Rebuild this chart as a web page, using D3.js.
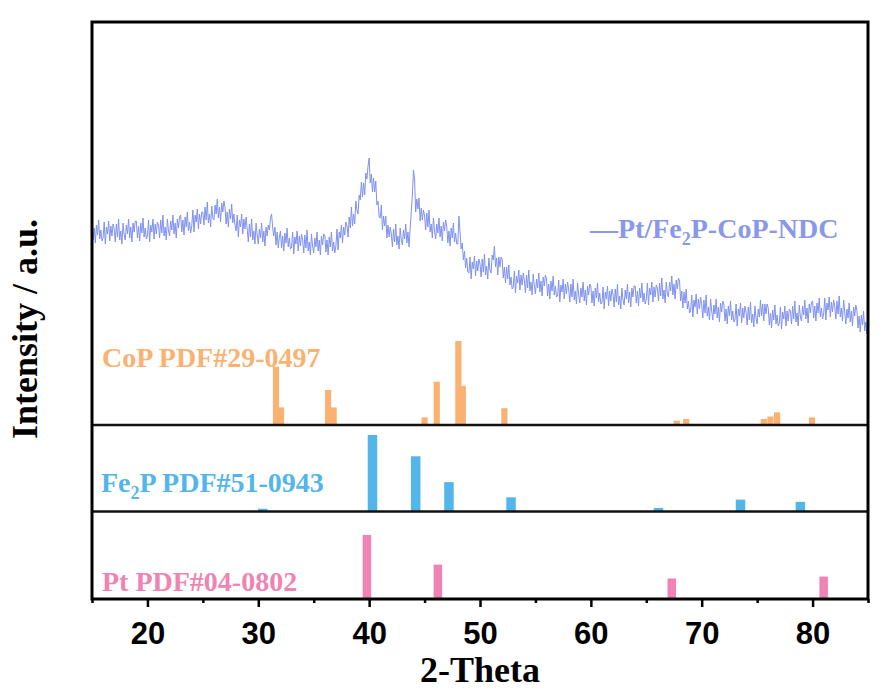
<!DOCTYPE html>
<html>
<head>
<meta charset="utf-8">
<script src="https://cdn.jsdelivr.net/npm/d3@7"></script>
<style>
  html, body { margin: 0; padding: 0; background: #ffffff; }
  svg { display: block; }
</style>
</head>
<body>
<svg id="chart" width="881" height="691"></svg>
<script>
// ---------------- DATA ----------------
const thetaStart = 15;
const thetaStep = 0.1;
// Pt/Fe2P-CoP-NDC measured pattern, 15.0° .. 85.0° in 0.1° steps (a.u.)
const curveCounts = [
117,100,112,97,115,105,120,101,110,99,
102,118,96,113,106,119,99,114,104,116,
111,98,116,103,121,100,109,96,117,105,
100,115,106,121,102,113,98,117,108,119,
119,102,114,99,117,107,122,103,112,101,
104,120,98,115,108,121,101,116,106,118,
115,102,120,107,125,104,113,100,121,109,
104,119,110,125,106,117,102,121,112,123,
125,108,120,105,123,113,128,109,118,107,
114,130,108,125,118,131,111,126,116,128,
128,115,133,120,138,117,126,113,134,122,
120,135,126,141,122,133,118,137,128,139,
133,116,128,113,131,121,136,117,126,115,
109,125,103,120,113,126,106,121,111,123,
111,98,116,103,121,100,109,96,117,105,
96,111,102,117,98,109,94,113,104,115,
110,122,126,112,104,113,95,108,92,103,
109,92,104,89,107,97,112,93,102,91,
92,108,86,103,96,109,89,104,94,106,
100,87,105,92,110,89,98,85,106,94,
87,102,93,108,89,100,85,104,95,106,
105,88,100,85,103,93,108,89,98,87,
94,111,90,108,102,115,97,113,105,118,
114,103,123,112,133,114,126,116,139,130,
126,145,140,158,143,157,145,167,161,174,
182,157,166,148,162,148,159,135,139,123,
122,135,110,124,114,124,102,115,103,113,
106,93,111,98,116,95,104,91,112,100,
95,110,101,116,97,108,93,112,128,145,
170,160,128,141,131,142,119,132,120,130,
124,110,127,113,130,108,116,102,122,109,
101,116,107,122,103,114,99,118,109,120,
114,97,109,94,112,102,117,98,107,96,
96,124,108,91,97,80,89,72,82,68,
67,83,61,78,71,84,64,79,69,81,
76,63,81,68,86,65,74,61,82,70,
67,85,80,94,73,82,65,83,73,83,
81,62,73,57,73,61,75,55,63,51,
53,69,47,64,57,70,50,65,55,67,
60,47,65,52,70,49,58,45,66,54,
46,61,52,67,48,59,44,63,54,65,
61,44,56,41,59,49,64,45,54,43,
44,60,38,55,48,61,41,56,46,58,
51,38,56,43,61,40,49,36,57,45,
37,52,43,58,39,50,35,54,45,56,
54,37,49,34,52,42,57,38,47,36,
37,53,31,48,41,54,34,49,39,51,
46,33,51,38,56,35,44,31,52,40,
35,50,41,56,37,48,33,52,43,54,
54,37,49,34,52,42,57,38,47,36,
41,57,35,52,45,58,38,53,43,55,
52,39,57,44,62,41,50,37,58,46,
43,58,49,64,45,56,41,60,51,62,
59,39,49,32,48,37,51,31,39,27,
29,45,23,40,33,46,26,41,31,43,
35,22,40,27,45,24,33,20,41,29,
20,35,26,41,22,33,18,37,28,39,
36,19,31,16,34,24,39,20,29,18,
20,36,14,31,24,37,17,32,22,34,
28,15,33,20,38,17,26,13,34,22,
16,31,23,40,24,36,19,36,26,36,
32,15,27,12,30,20,35,16,25,14,
17,33,11,28,21,34,14,29,19,31,
29,16,34,21,39,18,27,14,35,23,
19,34,25,40,21,32,17,36,27,38,
39,22,34,19,37,27,42,23,32,21,
26,42,20,37,30,43,23,38,28,40,
34,21,39,26,44,23,32,19,40,28,
16,31,22,37,18,29,14,33,24,35,
30,12,24,8,25,15,29,9,18,6,
15
];

// Reference cards (relative intensity, %)
const copPos  = [31.6, 32.05, 36.3, 36.8, 45.0, 46.1, 48.05, 48.45, 52.2, 67.75, 68.6, 75.6, 76.2, 76.8, 79.95];
const copInt  = [69, 20, 41, 20, 8, 51, 100, 46, 19, 4, 6, 6, 9, 14, 8];
const fe2pPos = [30.4, 40.3, 44.2, 47.2, 52.8, 66.1, 73.5, 78.9];
const fe2pInt = [3, 100, 72, 38, 18, 4, 15, 12];
const ptPos   = [39.8, 46.2, 67.3, 81.0];
const ptInt   = [100, 53, 31, 34];

const xMajorTicks = [20, 30, 40, 50, 60, 70, 80];
const xMinorTicks = [15, 25, 35, 45, 55, 65, 75, 85];

const xTitle = "2-Theta";
const yTitle = "Intensity / a.u.";
const copLabel = "CoP PDF#29-0497";
const ptLabel = "Pt PDF#04-0802";

// ---------------- LAYOUT ----------------
const svg = d3.select("#chart");
const L = 92, R = 868, T = 22, B = 599;
const sep1 = 425, sep2 = 511.5;

const x = d3.scaleLinear().domain([15, 85]).range([L, R]);
const yCurve = d3.scaleLinear().domain([0, 200]).range([340, 140]);
const yCoP = d3.scaleLinear().domain([0, 100]).range([424, 341]);
const yFe = d3.scaleLinear().domain([0, 100]).range([511, 435]);
const yPt = d3.scaleLinear().domain([0, 100]).range([598, 535]);

const serif = "'Liberation Serif','Times New Roman',serif";
const sans = "'Liberation Sans',Arial,sans-serif";

const cCurve = "#8092f0";
const cCurveText = "#8a98ea";
const cCoP = "#fbb172";
const cFe = "#52b6ea";
const cPt = "#ef84b2";

// ---------------- CURVE ----------------
const curveData = curveCounts.map((v, i) => [thetaStart + i * thetaStep, v]);
const line = d3.line().x(d => x(d[0])).y(d => yCurve(d[1]));
svg.append("path")
  .datum(curveData)
  .attr("d", line)
  .attr("fill", "none")
  .attr("stroke", cCurve)
  .attr("stroke-width", 1)
  .attr("stroke-linejoin", "round");

// ---------------- BARS ----------------
function drawBars(pos, ints, yScale, color, width) {
  svg.append("g").selectAll("rect")
    .data(pos.map((p, i) => ({ p, v: ints[i] })))
    .join("rect")
    .attr("x", d => x(d.p) - width / 2)
    .attr("width", width)
    .attr("y", d => yScale(d.v))
    .attr("height", d => yScale(0) - yScale(d.v))
    .attr("fill", color);
}
drawBars(copPos, copInt, yCoP, cCoP, 6.2);
drawBars(fe2pPos, fe2pInt, yFe, cFe, 9.5);
drawBars(ptPos, ptInt, yPt, cPt, 8.5);

// ---------------- FRAME & SEPARATORS ----------------
svg.append("line").attr("x1", L).attr("x2", R).attr("y1", sep1).attr("y2", sep1)
  .attr("stroke", "#111").attr("stroke-width", 2.5);
svg.append("line").attr("x1", L).attr("x2", R).attr("y1", sep2).attr("y2", sep2)
  .attr("stroke", "#111").attr("stroke-width", 2.5);
svg.append("rect").attr("x", L).attr("y", T).attr("width", R - L).attr("height", B - T)
  .attr("fill", "none").attr("stroke", "#000").attr("stroke-width", 3);

// ---------------- X AXIS ----------------
const axisG = svg.append("g").attr("transform", `translate(0,${B})`);
const majorAxis = d3.axisBottom(x).tickValues(xMajorTicks).tickSize(8).tickFormat(d3.format("d"));
axisG.call(majorAxis);
axisG.select(".domain").remove();
axisG.selectAll(".tick line").attr("stroke", "#000").attr("stroke-width", 2.5);
axisG.selectAll(".tick text")
  .attr("font-family", sans).attr("font-weight", "bold").attr("font-size", 31)
  .attr("fill", "#000").attr("y", 45).attr("dy", 0);

const minorG = svg.append("g").attr("transform", `translate(0,${B})`);
minorG.call(d3.axisBottom(x).tickValues(xMinorTicks).tickSize(4).tickFormat(""));
minorG.select(".domain").remove();
minorG.selectAll(".tick line").attr("stroke", "#000").attr("stroke-width", 2.5);

svg.append("text")
  .attr("x", 480).attr("y", 682)
  .attr("text-anchor", "middle")
  .attr("font-family", serif).attr("font-weight", "bold").attr("font-size", 36)
  .attr("fill", "#000").text(xTitle);

svg.append("text")
  .attr("transform", "translate(37,329) rotate(-90)")
  .attr("text-anchor", "middle")
  .attr("font-family", serif).attr("font-weight", "bold").attr("font-size", 36)
  .attr("fill", "#000").text(yTitle);

// ---------------- LABELS ----------------
svg.append("text")
  .attr("x", 102).attr("y", 367)
  .attr("font-family", serif).attr("font-weight", "bold").attr("font-size", 28)
  .attr("fill", cCoP).text(copLabel);

const feT = svg.append("text")
  .attr("x", 101).attr("y", 492)
  .attr("font-family", serif).attr("font-weight", "bold").attr("font-size", 28)
  .attr("fill", cFe);
feT.append("tspan").text("Fe");
feT.append("tspan").attr("font-size", 18).attr("dy", 7).text("2");
feT.append("tspan").attr("dy", -7).text("P PDF#51-0943");

svg.append("text")
  .attr("x", 102).attr("y", 591)
  .attr("font-family", serif).attr("font-weight", "bold").attr("font-size", 28)
  .attr("fill", cPt).text(ptLabel);

const lg = svg.append("text")
  .attr("x", 590).attr("y", 238)
  .attr("font-family", serif).attr("font-weight", "bold").attr("font-size", 28)
  .attr("fill", cCurveText);
lg.append("tspan").text("\u2014Pt/Fe");
lg.append("tspan").attr("font-size", 18).attr("dy", 7).text("2");
lg.append("tspan").attr("dy", -7).text("P-CoP-NDC");
</script>
</body>
</html>
